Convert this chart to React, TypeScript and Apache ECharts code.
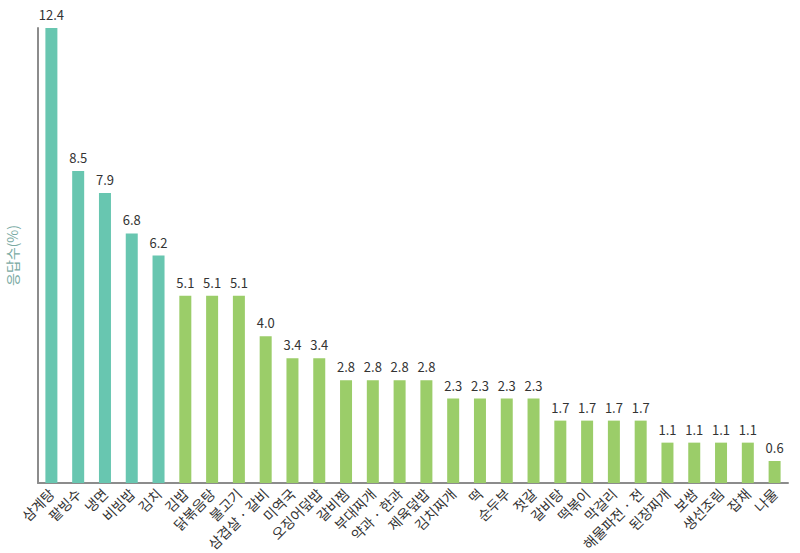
import React, { useEffect, useRef } from "react";
import * as echarts from "echarts";

const categories = [
  "삼계탕", "팥빙수", "냉면", "비빔밥", "김치",
  "김밥", "닭볶음탕", "불고기", "삼겹살 · 갈비", "미역국",
  "오징어덮밥", "갈비찜", "부대찌개", "약과 · 한과", "제육덮밥",
  "김치찌개", "떡", "순두부", "젓갈", "갈비탕",
  "떡볶이", "막걸리", "해물파전 · 전", "된장찌개", "보쌈",
  "생선조림", "잡채", "나물",
];
const values = [
  12.4, 8.5, 7.9, 6.8, 6.2,
  5.1, 5.1, 5.1, 4.0, 3.4,
  3.4, 2.8, 2.8, 2.8, 2.8,
  2.3, 2.3, 2.3, 2.3, 1.7,
  1.7, 1.7, 1.7, 1.1, 1.1,
  1.1, 1.1, 0.6,
];
const tealCount = 5;
const tealColor = "#68c6b0";
const greenColor = "#9bcd69";
const FONT = "'Noto Sans CJK KR', 'Noto Sans', sans-serif";

export default function App() {
  const ref = useRef<HTMLDivElement>(null);
  useEffect(() => {
    if (!ref.current) return;
    const chart = echarts.init(ref.current, null, { renderer: "svg" });
    chart.setOption({
      animation: false,
      grid: {
        left: 38,
        right: 12,
        top: 28,
        bottom: 70,
        containLabel: false,
        outerBoundsMode: "none",
      },
      xAxis: {
        type: "category",
        data: categories,
        axisLine: { lineStyle: { color: "#8c8c8c", width: 2 } },
        axisTick: { show: false },
        axisLabel: {
          rotate: 45,
          interval: 0,
          color: "#333",
          fontSize: 14,
          fontFamily: FONT,
          margin: 8,
        },
      },
      yAxis: {
        type: "value",
        min: 0,
        max: 12.4,
        name: "응답수(%)",
        nameLocation: "middle",
        nameGap: 19,
        nameTextStyle: { color: "#7aaaa3", fontSize: 14, fontFamily: FONT },
        axisLine: { show: true, lineStyle: { color: "#8c8c8c", width: 2 } },
        axisTick: { show: false },
        axisLabel: { show: false },
        splitLine: { show: false },
      },
      series: [
        {
          type: "bar",
          barWidth: 12,
          data: values.map((v, i) => ({
            value: v,
            itemStyle: { color: i < tealCount ? tealColor : greenColor },
          })),
          label: {
            show: true,
            position: "top",
            distance: 7,
            color: "#333",
            fontSize: 13,
            fontFamily: FONT,
            formatter: (p: any) => Number(p.value).toFixed(1),
          },
        },
      ],
    });
    return () => chart.dispose();
  }, []);
  return (
    <div
      ref={ref}
      style={{ position: "absolute", left: 0, top: 0, width: 800, height: 553 }}
    />
  );
}
